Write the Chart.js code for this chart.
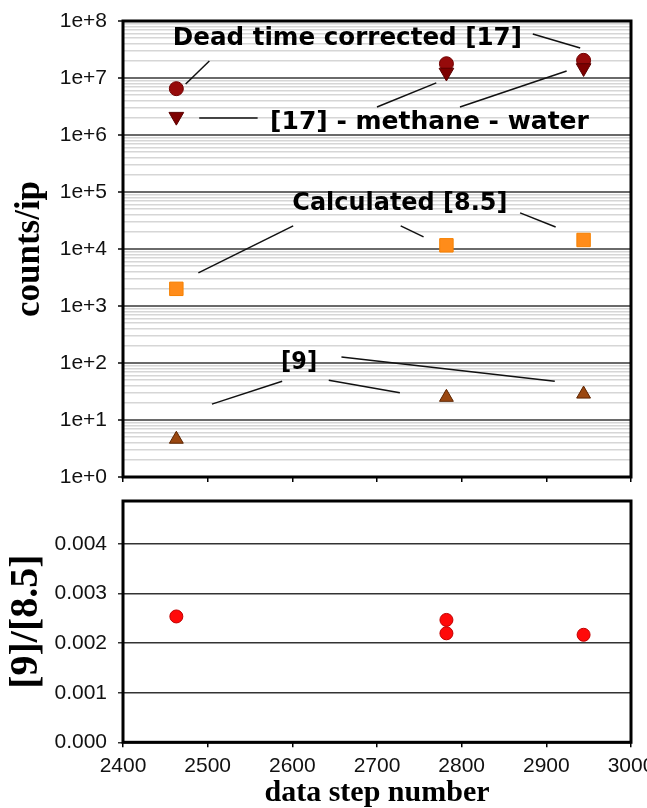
<!DOCTYPE html>
<html lang="en">
<head>
<meta charset="UTF-8">
<title>counts/ip vs data step number</title>
<style>
    body {
        margin: 0;
        padding: 0;
        background: #fff;
    }

    .wrap {
        position: relative;
        width: 647px;
        height: 808px;
        overflow: hidden;
    }

    #countsChart {
        position: absolute;
        left: 0;
        top: 0;
    }

    #ratioChart {
        position: absolute;
        left: 0;
        top: 490px;
    }
</style>
</head>
<body>
<div class="wrap">
    <canvas id="countsChart" width="647" height="490"></canvas>
    <canvas id="ratioChart" width="647" height="318"></canvas>
</div>
<script src="https://cdn.jsdelivr.net/npm/chart.js"></script>
<script>
    // data steps and the count rates measured / calculated at them
    const stepNumbers = [2463, 2782, 2944];
    const deadTimeCorrected = [6.5e6, 1.78e7, 2.04e7];
    const methaneWater = [2.1e6, 1.25e7, 1.5e7];
    const calculated85 = [2000, 1.16e4, 1.44e4];
    const ref9 = [4.6, 25, 28.5];

    // ratio [9]/[8.5]
    const ratioSteps = [2463, 2782, 2782, 2944];
    const ratioValues = [0.00254, 0.00247, 0.0022, 0.00217];

    // axis ticks
    const stepTicks = [2400, 2500, 2600, 2700, 2800, 2900, 3000];
    const countDecades = [1e0, 1e1, 1e2, 1e3, 1e4, 1e5, 1e6, 1e7, 1e8];
    const ratioTicks = [0, 0.001, 0.002, 0.003, 0.004];

    // callout labels, placed in data coordinates of the upper plot
    const callouts = [
        {text: 'Dead time corrected [17]', x: 2665, y: 5.0e7, width: 349,
            lines: [[2502, 1.99e7, 2474, 7.85e6], [2884, 5.9e7, 2940, 3.36e7]]},
        {text: '[17] - methane - water', x: 2762, y: 1.69e6, width: 320,
            lines: [[2490, 1.99e6, 2559, 1.99e6], [2700, 3.1e6, 2770, 8.2e6], [2798, 3.1e6, 2924, 1.33e7]]},
        {text: 'Calculated [8.5]', x: 2727, y: 6.2e4, width: 215,
            lines: [[2601, 2.54e4, 2489, 3.8e3], [2728, 2.54e4, 2755, 1.63e4], [2869, 4.3e4, 2911, 2.43e4]]},
        {text: '[9]', x: 2608, y: 104, width: 36,
            lines: [[2588, 48, 2505, 19], [2643, 50, 2727, 30], [2658, 127, 2910, 48]]}
    ];

    const toPoints = (xs, ys) => xs.map((x, i) => ({x: x, y: ys[i]}));

    const tickFont = {family: 'Liberation Sans, Arial, sans-serif', size: 21};
    const serif = 'Liberation Serif, Times New Roman, serif';

    // black box round the plot area
    const framePlugin = {
        id: 'frame',
        beforeDatasetsDraw(chart) {
            const a = chart.chartArea;
            const ctx = chart.ctx;
            ctx.save();
            ctx.strokeStyle = '#000';
            ctx.lineWidth = 3;
            ctx.strokeRect(a.left, a.top, a.right - a.left, a.bottom - a.top);
            ctx.restore();
        }
    };

    // text labels with leader lines
    const calloutPlugin = {
        id: 'callouts',
        afterDatasetsDraw(chart) {
            const ctx = chart.ctx;
            const xs = chart.scales.x;
            const ys = chart.scales.y;
            ctx.save();
            ctx.strokeStyle = '#111';
            ctx.lineWidth = 1.5;
            ctx.fillStyle = '#000';
            ctx.font = 'bold 25px "DejaVu Sans", sans-serif';
            ctx.textAlign = 'center';
            ctx.textBaseline = 'middle';
            callouts.forEach(c => {
                c.lines.forEach(l => {
                    ctx.beginPath();
                    ctx.moveTo(xs.getPixelForValue(l[0]), ys.getPixelForValue(l[1]));
                    ctx.lineTo(xs.getPixelForValue(l[2]), ys.getPixelForValue(l[3]));
                    ctx.stroke();
                });
                ctx.fillText(c.text, xs.getPixelForValue(c.x), ys.getPixelForValue(c.y), c.width);
            });
            ctx.restore();
        }
    };

    const isDecade = v => countDecades.includes(v);

    let countsChart = new Chart(document.getElementById('countsChart'), {
        type: 'scatter',
        data: {
            datasets: [
                {
                    label: '[17] - methane - water',
                    data: toPoints(stepNumbers, methaneWater),
                    pointStyle: 'triangle',
                    rotation: 180,
                    pointRadius: 8.5,
                    backgroundColor: '#7d0000',
                    borderColor: '#5a0000',
                    borderWidth: 1
                },
                {
                    label: 'Dead time corrected [17]',
                    data: toPoints(stepNumbers, deadTimeCorrected),
                    pointStyle: 'circle',
                    pointRadius: 7,
                    backgroundColor: '#960b0b',
                    borderColor: '#700000',
                    borderWidth: 1
                },
                {
                    label: 'Calculated [8.5]',
                    data: toPoints(stepNumbers, calculated85),
                    pointStyle: 'rect',
                    pointRadius: 9.5,
                    backgroundColor: '#ff8c1a',
                    borderColor: '#f58000',
                    borderWidth: 1
                },
                {
                    label: '[9]',
                    data: toPoints(stepNumbers, ref9),
                    pointStyle: 'triangle',
                    pointRadius: 8,
                    backgroundColor: '#9a4710',
                    borderColor: '#5c2400',
                    borderWidth: 1
                }
            ]
        },
        options: {
            responsive: false,
            animation: false,
            layout: {padding: {left: 0, right: 16, top: 21, bottom: 0}},
            plugins: {legend: {display: false}, tooltip: {enabled: false}},
            scales: {
                x: {
                    type: 'linear',
                    min: 2400,
                    max: 3000,
                    afterBuildTicks: s => { s.ticks = stepTicks.map(v => ({value: v})); },
                    afterFit: s => { s.height = 13; s.paddingLeft = 0; s.paddingRight = 0; },
                    ticks: {display: false},
                    grid: {drawOnChartArea: false, tickLength: 5, tickColor: '#000', lineWidth: 1.5},
                    border: {display: false}
                },
                y: {
                    type: 'logarithmic',
                    min: 1,
                    max: 1e8,
                    afterBuildTicks: s => {
                        const t = [];
                        countDecades.forEach(d => {
                            for (let m = 1; m < 10; m++) {
                                if (d * m <= 1e8) t.push({value: d * m, major: m === 1});
                            }
                        });
                        s.ticks = t;
                    },
                    afterFit: s => { s.width = 123; s.paddingTop = 0; s.paddingBottom = 0; },
                    ticks: {
                        autoSkip: false,
                        font: tickFont,
                        color: '#111',
                        padding: 11,
                        callback: v => isDecade(v) ? v.toExponential(0) : ''
                    },
                    grid: {
                        color: c => isDecade(c.tick.value) ? '#6a6a6a' : '#d6d6d6',
                        lineWidth: c => isDecade(c.tick.value) ? 2 : 1.5,
                        tickLength: 5,
                        tickColor: c => isDecade(c.tick.value) ? '#444' : 'rgba(0,0,0,0)'
                    },
                    border: {display: false},
                    title: {
                        display: true,
                        text: 'counts/ip',
                        font: {family: serif, size: 35, weight: 'bold', lineHeight: 1.2},
                        color: '#000',
                        padding: {top: 9, bottom: 0}
                    }
                }
            }
        },
        plugins: [framePlugin, calloutPlugin]
    });

    let ratioChart = new Chart(document.getElementById('ratioChart'), {
        type: 'scatter',
        data: {
            datasets: [{
                label: '[9]/[8.5]',
                data: toPoints(ratioSteps, ratioValues),
                pointStyle: 'circle',
                pointRadius: 6.5,
                backgroundColor: '#ff0a0a',
                borderColor: '#c00000',
                borderWidth: 1
            }]
        },
        options: {
            responsive: false,
            animation: false,
            layout: {padding: {left: 0, right: 16, top: 11, bottom: 0}},
            plugins: {legend: {display: false}, tooltip: {enabled: false}},
            scales: {
                x: {
                    type: 'linear',
                    min: 2400,
                    max: 3000,
                    afterBuildTicks: s => { s.ticks = stepTicks.map(v => ({value: v})); },
                    afterFit: s => { s.height = 65.7; s.paddingLeft = 0; s.paddingRight = 0; },
                    ticks: {font: tickFont, color: '#111', padding: 6, maxRotation: 0, autoSkip: false, callback: v => String(v)},
                    grid: {drawOnChartArea: false, tickLength: 5, tickColor: '#000', lineWidth: 1.5},
                    border: {display: false},
                    title: {
                        display: true,
                        text: 'data step number',
                        font: {family: serif, size: 30, weight: 'bold', lineHeight: 1},
                        color: '#000',
                        padding: {top: 0, bottom: 0}
                    }
                },
                y: {
                    type: 'linear',
                    min: 0,
                    max: 0.00487,
                    afterBuildTicks: s => { s.ticks = ratioTicks.map(v => ({value: v})); },
                    afterFit: s => { s.width = 123; s.paddingTop = 0; s.paddingBottom = 0; },
                    ticks: {font: tickFont, color: '#111', padding: 11, callback: v => v.toFixed(3)},
                    grid: {color: '#333', lineWidth: 1.5, tickLength: 5, tickColor: '#333'},
                    border: {display: false},
                    title: {
                        display: true,
                        text: '[9]/[8.5]',
                        font: {family: serif, size: 40, weight: 'bold', lineHeight: 1.2},
                        color: '#000',
                        padding: {top: 3, bottom: 0}
                    }
                }
            }
        },
        plugins: [framePlugin]
    });
</script>
</body>
</html>
